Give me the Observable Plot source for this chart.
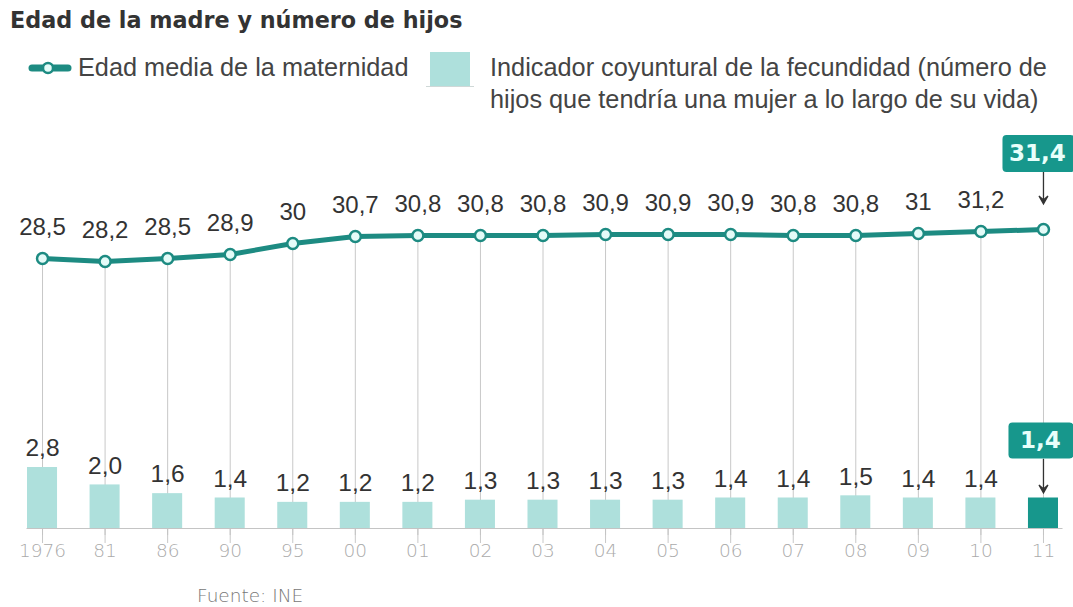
<!DOCTYPE html>
<html>
<head>
<meta charset="utf-8">
<script src="https://cdn.jsdelivr.net/npm/d3@7"></script>
<script src="https://cdn.jsdelivr.net/npm/@observablehq/plot@0.6"></script>
<style>
  html, body { margin: 0; padding: 0; background: #fff; }
  body { width: 1073px; height: 607px; position: relative; overflow: hidden; font-family: "Liberation Sans", Arial, sans-serif; }
  .abs { position: absolute; white-space: nowrap; }
  #title { left: 10px; top: 7px; font: bold 22.3px "DejaVu Sans", sans-serif; color: #333; }
  .leg { font-size: 25.3px; color: #444; line-height: 32px; }
  #chart { position: absolute; left: 0; top: 130px; width: 1073px; height: 450px; }
  #chart svg { position: absolute; left: 0; top: 0; }
  #source { left: 197px; top: 585px; font: 300 18.5px "DejaVu Sans", sans-serif; color: #777; }
</style>
</head>
<body>
<div id="title" class="abs">Edad de la madre y número de hijos</div>

<svg class="abs" style="left:26px;top:58px" width="48" height="20">
  <line x1="6" y1="10" x2="42" y2="10" stroke="#1d8b82" stroke-width="7" stroke-linecap="round"></line>
  <circle cx="22" cy="10" r="5" fill="#e4fbf8" stroke="#1d8b82" stroke-width="2.5"></circle>
</svg>
<div class="abs leg" style="left:78px;top:51px">Edad media de la maternidad</div>

<svg class="abs" style="left:424px;top:50px" width="52" height="40">
  <rect x="6" y="2" width="40" height="34" fill="#aee0dc"></rect>
  <line x1="2" y1="36.5" x2="50" y2="36.5" stroke="#cfd8d7" stroke-width="1"></line>
</svg>
<div class="abs leg" style="left:490px;top:51px">Indicador coyuntural de la fecundidad (número de<br>hijos que tendría una mujer a lo largo de su vida)</div>

<div id="chart"></div>
<div id="source" class="abs">Fuente: INE</div>

<script>
// ---- data ----
const years = ["1976", "81", "86", "90", "95", "00", "01", "02", "03", "04", "05", "06", "07", "08", "09", "10", "11"];
const edad  = [28.5, 28.2, 28.5, 28.9, 30, 30.7, 30.8, 30.8, 30.8, 30.9, 30.9, 30.9, 30.8, 30.8, 31, 31.2, 31.4];
const hijos = [2.8, 2.0, 1.6, 1.4, 1.2, 1.2, 1.2, 1.3, 1.3, 1.3, 1.3, 1.4, 1.4, 1.5, 1.4, 1.4, 1.4];

// ---- styles ----
const TEAL = "#1d8b82";
const BOX = "#17978c";
const LIGHT = "#aee0dc";
const W = 1073, H = 450;

const idx = years.map((_, i) => i);
const last = idx.length - 1;
const normal = idx.filter(i => i !== last);
const fmtEdad = v => String(v).replace(".", ",");
const fmtHijos = v => v.toFixed(1).replace(".", ",");

const xScale = {
  type: "band", domain: years, round: false,
  paddingInner: 0.52, paddingOuter: 0.2
};

function roundedBox(w, h, r) {
  return {
    draw(ctx) {
      const x0 = -w / 2, x1 = w / 2, y0 = -h / 2, y1 = h / 2;
      ctx.moveTo(x0 + r, y0);
      ctx.lineTo(x1 - r, y0);
      ctx.arcTo(x1, y0, x1, y0 + r, r);
      ctx.lineTo(x1, y1 - r);
      ctx.arcTo(x1, y1, x1 - r, y1, r);
      ctx.lineTo(x0 + r, y1);
      ctx.arcTo(x0, y1, x0, y1 - r, r);
      ctx.lineTo(x0, y0 + r);
      ctx.arcTo(x0, y0, x0 + r, y0, r);
      ctx.closePath();
    }
  };
}
function downArrow(len) {
  return {
    draw(ctx) {
      ctx.moveTo(0, -len / 2);
      ctx.lineTo(0, len / 2 - 2);
      ctx.moveTo(-4.5, len / 2 - 8);
      ctx.lineTo(0, len / 2 - 4);
      ctx.lineTo(4.5, len / 2 - 8);
      ctx.lineTo(0, len / 2);
      ctx.closePath();
    }
  };
}

// ---- upper plot: mean age line ----
const linePlot = Plot.plot({
  width: W, height: H,
  marginLeft: 14.5, marginRight: 2.5, marginTop: 0, marginBottom: 45,
  x: {...xScale, axis: null},
  y: {domain: [28.2, 31.4], range: [131, 99], axis: null},
  style: {background: "transparent", overflow: "visible"},
  marks: [
    Plot.ruleX(idx, {x: i => years[i], y1: i => edad[i], stroke: "#c8c8c8", strokeWidth: 1}),
    Plot.line(idx, {x: i => years[i], y: i => edad[i], stroke: TEAL, strokeWidth: 5, curve: "linear"}),
    Plot.dot(idx, {x: i => years[i], y: i => edad[i], r: 5.5, fill: "#e4fbf8", stroke: TEAL, strokeWidth: 2.5}),
    Plot.text(normal, {x: i => years[i], y: i => edad[i], text: i => fmtEdad(edad[i]), dy: -31,
      fontSize: 24, fontFamily: "Liberation Sans", fill: "#333"}),
    Plot.dot([last], {x: i => years[i], y: i => edad[i], symbol: downArrow(33), r: 10, dy: -42,
      fill: "#333", stroke: "#333", strokeWidth: 1.3}),
    Plot.dot([last], {x: i => years[i], y: i => edad[i], symbol: roundedBox(72, 37, 4), r: 10, dx: -5, dy: -76,
      fill: BOX, stroke: "none"}),
    Plot.text([last], {x: i => years[i], y: i => edad[i], text: i => fmtEdad(edad[i]), dx: -6, dy: -76,
      fontSize: 23, fontWeight: "bold", fontFamily: "DejaVu Sans", fill: "#e8fffb"})
  ]
});

// ---- lower plot: fertility bars ----
const barPlot = Plot.plot({
  width: W, height: H,
  marginLeft: 14.5, marginRight: 2.5, marginTop: 0, marginBottom: 52,
  x: xScale,
  y: {domain: [0, 2.8], range: [398, 337], axis: null},
  style: {background: "transparent", overflow: "visible"},
  marks: [
    Plot.barY(idx, {x: i => years[i], y: i => hijos[i], fill: i => i === last ? BOX : LIGHT}),
    Plot.ruleY([0], {stroke: "#c4c4c4", strokeWidth: 1.2, insetLeft: 12, insetRight: 8}),
    Plot.axisX({tickSize: 7, tickPadding: 8, stroke: "#c4c4c4", fill: "#aaa", label: null,
      fontSize: 18.5, fontFamily: "DejaVu Sans", fontWeight: 300}),
    Plot.text(normal, {x: i => years[i], y: i => hijos[i], text: i => fmtHijos(hijos[i]), dy: -19,
      fontSize: 24.5, fontFamily: "Liberation Sans", fill: "#333"}),
    Plot.dot([last], {x: i => years[i], y: i => hijos[i], symbol: downArrow(34), r: 10, dy: -22,
      fill: "#333", stroke: "#333", strokeWidth: 1.3}),
    Plot.dot([last], {x: i => years[i], y: i => hijos[i], symbol: roundedBox(65, 36, 4), r: 10, dx: -2.5, dy: -57.5,
      fill: BOX, stroke: "none"}),
    Plot.text([last], {x: i => years[i], y: i => hijos[i], text: i => fmtHijos(hijos[i]), dx: -3, dy: -57.5,
      fontSize: 23, fontWeight: "bold", fontFamily: "DejaVu Sans", fill: "#e8fffb"})
  ]
});

const chart = document.getElementById("chart");
chart.append(linePlot);
chart.append(barPlot);
</script>
</body>
</html>
